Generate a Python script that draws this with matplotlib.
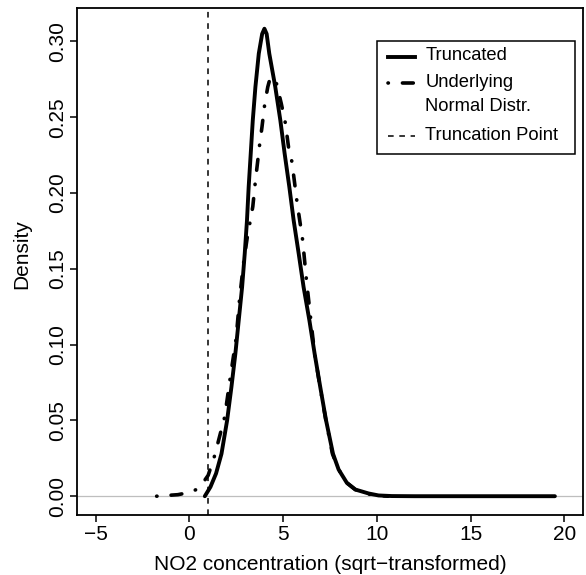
import numpy as np
import matplotlib.pyplot as plt
from matplotlib.lines import Line2D

plt.rcParams['font.family'] = ['Liberation Sans', 'DejaVu Sans']
plt.rcParams['font.size'] = 15

# truncated density
trunc_x = [0.82, 1.12, 1.42, 1.71, 2.01, 2.24, 2.45, 2.63, 2.81, 2.95, 3.07, 3.16,
           3.27, 3.38, 3.52, 3.70, 3.88, 4.00, 4.12, 4.26, 4.58, 4.85, 5.08, 5.33,
           5.56, 5.83, 6.09, 6.40, 6.68, 6.98, 7.29, 7.66, 7.96, 8.40, 8.85, 9.56,
           10.09, 10.8, 12.0, 15.0, 19.5]
trunc_y = [0.000, 0.0061, 0.015, 0.028, 0.050, 0.072, 0.094, 0.116, 0.138, 0.160, 0.182, 0.204,
           0.226, 0.248, 0.270, 0.292, 0.305, 0.3084, 0.305, 0.292, 0.270, 0.248, 0.226, 0.204,
           0.182, 0.160, 0.138, 0.116, 0.094, 0.072, 0.050, 0.028, 0.0176, 0.0088, 0.0044, 0.0018,
           0.0005, 0.0001, 0.0, 0.0, 0.0]

# underlying normal distribution density
under_x = [-1.75, -1.20, -0.62, 0.00, 0.37, 0.70, 1.00, 1.35, 1.60, 1.88, 2.17, 2.49,
           2.68, 2.90, 3.10, 3.25, 3.38, 3.52, 3.75, 3.87, 4.02, 4.18, 4.32, 4.50,
           4.65, 4.90, 5.12, 5.29, 5.47, 5.74, 6.04, 6.24, 6.47, 6.68, 6.97, 7.28,
           7.63, 7.96, 8.40, 8.85, 9.50, 10.0, 10.6]
under_y = [0.000, 0.0005, 0.001, 0.0025, 0.0044, 0.0085, 0.0138, 0.027, 0.039, 0.0523, 0.0776, 0.104,
           0.131, 0.155, 0.172, 0.182, 0.191, 0.208, 0.2325, 0.2435, 0.259, 0.270, 0.2765, 0.2755,
           0.272, 0.259, 0.246, 0.230, 0.2205, 0.194, 0.169, 0.143, 0.117, 0.094, 0.072, 0.050,
           0.028, 0.0176, 0.0088, 0.0044, 0.0015, 0.0005, 0.0]

trunc_point = 1.0
xticks = [-5, 0, 5, 10, 15, 20]
yticks = [0.00, 0.05, 0.10, 0.15, 0.20, 0.25, 0.30]
legend_labels = ['Truncated', 'Underlying\nNormal Distr.', 'Truncation Point']

fig = plt.figure(figsize=(5.86, 5.75), dpi=100)
ax = fig.add_axes([77 / 586, 1 - 515 / 575, 506 / 586, 507.5 / 575])

dotdash = dict(linestyle=(0, (0.1, 3.9, 3.0, 3.9)), dash_capstyle='round')
trunc_dash = dict(linestyle=(0, (3.7, 3.7)))

ax.axhline(0, color='#BEBEBE', lw=0.9, zorder=0.5)
ax.axvline(trunc_point, color='black', lw=1.1, **trunc_dash)
ax.plot(under_x, under_y, color='black', lw=2.6, **dotdash)
ax.plot(trunc_x, trunc_y, color='black', lw=2.8, solid_capstyle='round', solid_joinstyle='round')

ax.set_xlim(-6, 21)
ax.set_ylim(-0.0124, 0.3224)
ax.set_xticks(xticks)
ax.set_yticks(yticks)
ax.set_xticklabels([f'{t:d}'.replace('-', '\u2212') for t in xticks])
ax.set_yticklabels([f'{t:.2f}' for t in yticks], rotation=90, va='center')
ax.tick_params(direction='out', length=5, width=1.1, pad=2)
for s in ax.spines.values():
    s.set_linewidth(1.3)

ax.set_xlabel('NO2 concentration (sqrt\u2212transformed)', labelpad=8)
ax.set_ylabel('Density')
ax.yaxis.set_label_coords(-0.091, 0.515)

# legend drawn by hand, R style
tr = ax.transAxes
lfs = 13.2
ax.add_patch(plt.Rectangle((0.5935, 0.711), 0.3905, 0.223, transform=tr,
                           fill=False, lw=1.1, ec='black', zorder=5))
ax.add_line(Line2D([0.614, 0.668], [0.902, 0.902], transform=tr, color='black', lw=2.8))
ax.add_line(Line2D([0.614, 0.668], [0.851, 0.851], transform=tr, color='black', lw=2.6, **dotdash))
ax.add_line(Line2D([0.614, 0.668], [0.747, 0.747], transform=tr, color='black', lw=1.1, **trunc_dash))
ax.text(0.688, 0.906, legend_labels[0], transform=tr, va='center', ha='left', fontsize=lfs)
ax.text(0.688, 0.853, legend_labels[1].split('\n')[0], transform=tr, va='center', ha='left', fontsize=lfs)
ax.text(0.688, 0.804, legend_labels[1].split('\n')[1], transform=tr, va='center', ha='left', fontsize=lfs)
ax.text(0.688, 0.747, legend_labels[2], transform=tr, va='center', ha='left', fontsize=lfs)

fig.savefig('out.png', dpi=100)
